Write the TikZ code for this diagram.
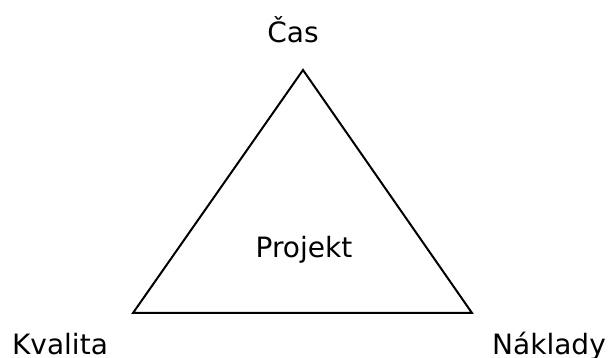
\documentclass[tikz,border=0pt]{standalone}
\usepackage{fontspec}
\setmainfont{DejaVu Sans}
\usetikzlibrary{positioning}

\begin{document}
\begin{tikzpicture}[x=1pt, y=1pt,
		corner/.style = {font=\fontsize{28}{32}\selectfont, inner sep=0pt},
		side/.style = {line width=2pt, line join=miter}]
	\useasboundingbox (0,0) rectangle (613,358);
	% triangle corners
	\coordinate (top) at (303,288);
	\coordinate (left) at (133,45);
	\coordinate (right) at (472,45);
	\draw[side] (top) -- (left) -- (right) -- cycle;
	% labels
	\node[corner, anchor=base] (cas) at (293,315) {Čas};
	\node[corner, anchor=base] (kvalita) at (60,3) {Kvalita};
	\node[corner, anchor=base west] (naklady) at (492,3) {Náklady};
	\node[corner, anchor=base] (projekt) at (304,100) {Projekt};
\end{tikzpicture}
\end{document}
